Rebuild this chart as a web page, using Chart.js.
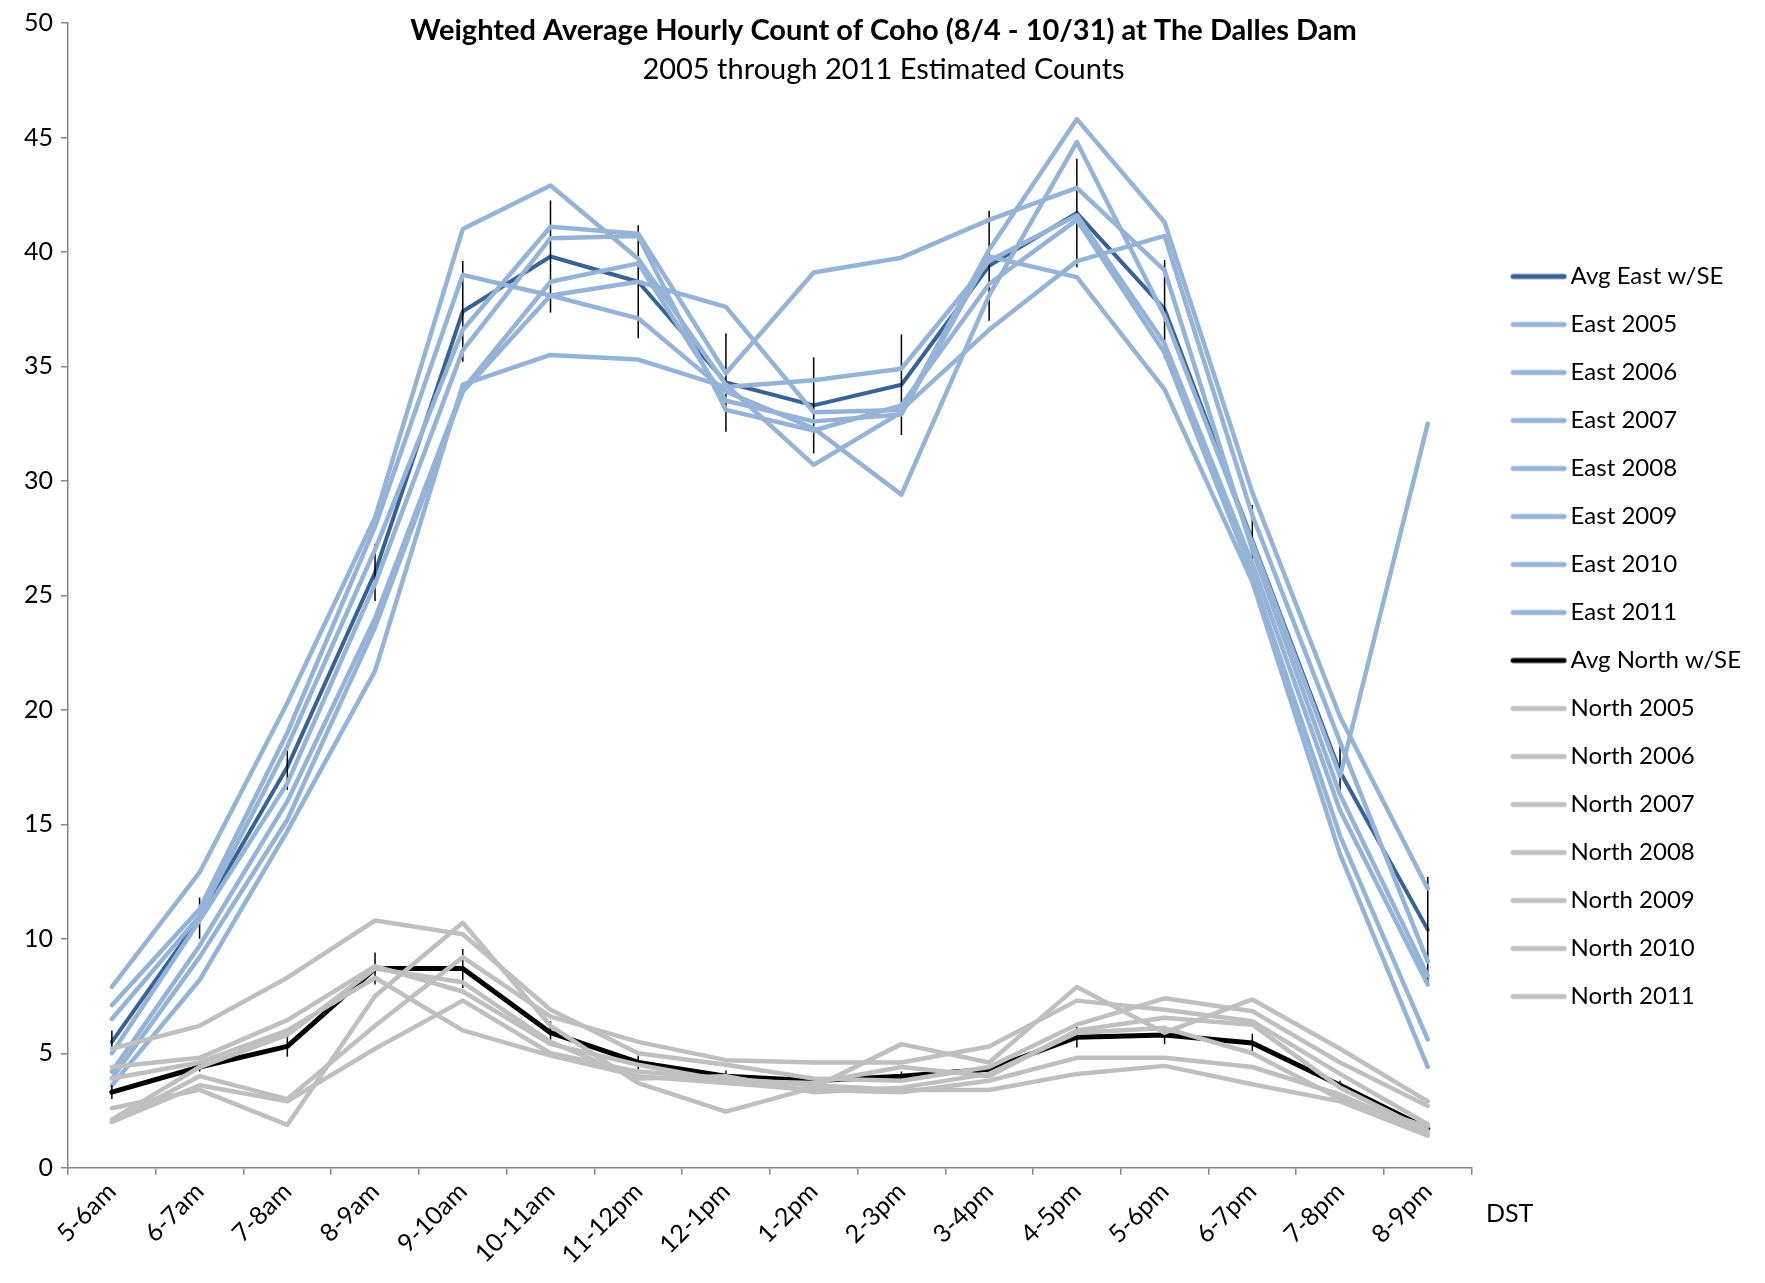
<!DOCTYPE html>
<html>
<head>
<meta charset="utf-8">
<title>Weighted Average Hourly Count of Coho</title>
<script src="https://cdn.jsdelivr.net/npm/chart.js@4.4.1/dist/chart.umd.min.js"></script>
<style>
  body { margin: 0; background: #fff; }
  canvas { display: block; }
</style>
</head>
<body>
<canvas id="coho" width="1765" height="1283"></canvas>
<script>
var hours = ['5-6am', '6-7am', '7-8am', '8-9am', '9-10am', '10-11am', '11-12pm', '12-1pm',
             '1-2pm', '2-3pm', '3-4pm', '4-5pm', '5-6pm', '6-7pm', '7-8pm', '8-9pm'];

var avgEast   = [5.5, 10.9, 17.5, 26.0, 37.4, 39.8, 38.7, 34.3, 33.3, 34.2, 39.4, 41.7, 37.5, 27.4, 17.3, 10.4];
var avgEastSE = [0.5, 0.9, 1.0, 1.25, 2.2, 2.45, 2.47, 2.15, 2.1, 2.2, 2.4, 2.37, 2.15, 1.55, 1.1, 2.3];
var east2005  = [7.9, 12.9, 20.3, 28.4, 41.0, 42.9, 39.7, 34.2, 30.7, 33.0, 40.1, 45.8, 41.3, 29.5, 19.7, 12.2];
var east2006  = [7.1, 11.3, 19.0, 28.0, 39.0, 38.1, 37.1, 33.9, 32.3, 29.4, 38.1, 44.8, 37.2, 27.3, 17.1, 32.5];
var east2007  = [3.6, 8.2, 14.7, 21.7, 34.2, 35.5, 35.3, 34.1, 34.4, 34.9, 39.6, 41.6, 36.0, 26.4, 15.6, 8.0];
var east2008  = [6.5, 11.0, 18.4, 27.0, 36.6, 41.1, 40.8, 34.7, 39.1, 39.75, 41.4, 42.8, 39.2, 27.0, 16.3, 8.4];
var east2009  = [5.0, 10.8, 16.8, 25.5, 35.7, 40.6, 40.7, 33.1, 32.2, 33.3, 38.6, 41.4, 35.6, 25.9, 14.5, 5.6];
var east2010  = [4.2, 9.7, 16.0, 24.0, 34.0, 38.7, 39.5, 33.5, 32.6, 32.9, 39.8, 38.9, 34.0, 25.6, 13.7, 4.4];
var east2011  = [3.9, 9.2, 15.2, 23.6, 33.9, 38.1, 38.7, 37.6, 33.0, 33.1, 36.6, 39.6, 40.7, 28.5, 18.6, 9.0];

var avgNorth   = [3.3, 4.4, 5.3, 8.7, 8.7, 5.9, 4.6, 4.0, 3.8, 4.0, 4.3, 5.7, 5.8, 5.45, 3.6, 1.7];
var avgNorthSE = [0.3, 0.2, 0.45, 0.7, 0.85, 0.5, 0.3, 0.25, 0.15, 0.2, 0.15, 0.45, 0.4, 0.4, 0.2, 0.1];
var north2005  = [5.2, 6.2, 8.3, 10.8, 10.2, 6.9, 5.0, 4.5, 3.9, 3.8, 4.4, 6.25, 7.4, 6.84, 4.6, 2.7];
var north2006  = [2.6, 3.4, 1.87, 7.5, 10.7, 6.2, 3.7, 2.45, 3.5, 5.4, 4.6, 7.9, 5.9, 7.35, 5.2, 2.9];
var north2007  = [2.0, 4.0, 3.0, 6.2, 9.2, 6.6, 5.5, 4.7, 4.6, 4.6, 5.3, 7.3, 6.9, 6.4, 4.1, 1.9];
var north2008  = [2.0, 3.6, 2.9, 5.2, 7.3, 5.0, 4.2, 3.9, 3.6, 3.4, 3.4, 4.1, 4.45, 3.65, 2.9, 1.4];
var north2009  = [4.4, 4.8, 6.45, 8.8, 7.7, 5.4, 4.5, 3.8, 3.7, 4.4, 4.0, 6.0, 6.55, 6.25, 3.5, 1.6];
var north2010  = [3.9, 4.6, 6.0, 8.3, 6.0, 4.9, 4.0, 3.7, 3.4, 3.3, 3.8, 4.8, 4.8, 4.4, 3.2, 1.5];
var north2011  = [2.1, 4.4, 5.8, 8.7, 8.1, 5.5, 3.9, 4.0, 3.3, 3.5, 4.1, 5.9, 6.1, 5.0, 3.0, 1.8];

var darkBlue = '#386294';
var lightBlue = '#95b3d7';
var gray = '#bfbfbf';

// little line sample used as the legend symbol
function legendLine(color) {
    var c = document.createElement('canvas');
    c.width = 100;
    c.height = 12;
    var g = c.getContext('2d');
    g.strokeStyle = color;
    g.lineWidth = 5;
    g.lineCap = 'round';
    g.beginPath();
    g.moveTo(36, 6);
    g.lineTo(87, 6);
    g.stroke();
    return c;
}

function series(label, data, color, width, se) {
    return {
        label: label,
        data: data,
        se: se,
        borderColor: color,
        backgroundColor: color,
        borderWidth: width,
        borderJoinStyle: 'round',
        borderCapStyle: 'round',
        pointRadius: 0,
        pointHoverRadius: 0,
        tension: 0,
        fill: false,
        pointStyle: legendLine(color)
    };
}

// vertical standard error bars, drawn right after their own line
var errorBars = {
    id: 'errorBars',
    afterDatasetDraw: function(chart, args) {
        var ds = chart.data.datasets[args.index];
        if (!ds.se) return;
        var y = chart.scales.y;
        var ctx = chart.ctx;
        ctx.save();
        ctx.strokeStyle = '#000';
        ctx.lineWidth = 1.5;
        args.meta.data.forEach(function(pt, i) {
            ctx.beginPath();
            ctx.moveTo(pt.x, y.getPixelForValue(ds.data[i] + ds.se[i]));
            ctx.lineTo(pt.x, y.getPixelForValue(ds.data[i] - ds.se[i]));
            ctx.stroke();
        });
        ctx.restore();
    }
};

var dstLabel = {
    id: 'dstLabel',
    afterDraw: function(chart) {
        var x = chart.scales.x;
        var ctx = chart.ctx;
        ctx.save();
        ctx.font = '25px Lato';
        ctx.fillStyle = '#000';
        ctx.textAlign = 'center';
        ctx.textBaseline = 'middle';
        ctx.fillText('DST', x.right + 38, x.top + 46);
        ctx.restore();
    }
};

function drawChart() {
    var list = [
        series('Avg East w/SE', avgEast, darkBlue, 4, avgEastSE),
        series('East 2005', east2005, lightBlue, 4.5),
        series('East 2006', east2006, lightBlue, 4.5),
        series('East 2007', east2007, lightBlue, 4.5),
        series('East 2008', east2008, lightBlue, 4.5),
        series('East 2009', east2009, lightBlue, 4.5),
        series('East 2010', east2010, lightBlue, 4.5),
        series('East 2011', east2011, lightBlue, 4.5),
        series('Avg North w/SE', avgNorth, '#000', 5, avgNorthSE),
        series('North 2005', north2005, gray, 4.5),
        series('North 2006', north2006, gray, 4.5),
        series('North 2007', north2007, gray, 4.5),
        series('North 2008', north2008, gray, 4.5),
        series('North 2009', north2009, gray, 4.5),
        series('North 2010', north2010, gray, 4.5),
        series('North 2011', north2011, gray, 4.5)
    ];
    // first dataset is drawn on top, so reverse to keep the later series above
    list.reverse();

    var ctx = document.getElementById('coho').getContext('2d');
    new Chart(ctx, {
        type: 'line',
        data: { labels: hours, datasets: list },
        plugins: [errorBars, dstLabel],
        options: {
            responsive: false,
            animation: false,
            devicePixelRatio: 1,
            events: [],
            layout: { padding: { left: 16, right: 14, top: 17, bottom: 11 } },
            plugins: {
                title: {
                    display: true,
                    text: 'Weighted Average Hourly Count of Coho (8/4 - 10/31) at The Dalles Dam',
                    color: '#000',
                    font: { family: 'Lato', size: 29, weight: 'bold' },
                    padding: { top: -9.4, bottom: -25.4 }
                },
                subtitle: {
                    display: true,
                    text: '2005 through 2011 Estimated Counts',
                    color: '#000',
                    font: { family: 'Lato', size: 29 },
                    padding: { top: 29.6, bottom: -64.4 }
                },
                legend: {
                    position: 'right',
                    reverse: true,
                    // empty title with negative padding nudges the list up a little
                    title: { display: true, text: '', font: { size: 12 }, padding: { top: -30.4, bottom: 0 } },
                    labels: {
                        usePointStyle: true,
                        pointStyleWidth: 63,
                        padding: 24,
                        color: '#000',
                        font: { family: 'Lato', size: 24 }
                    }
                },
                tooltip: { enabled: false }
            },
            scales: {
                x: {
                    offset: true,
                    grid: { offset: true, drawOnChartArea: false, tickLength: 7, color: '#868686', lineWidth: 1.5 },
                    border: { color: '#868686', width: 1.5 },
                    ticks: {
                        autoSkip: false,
                        minRotation: 45,
                        maxRotation: 45,
                        padding: 2,
                        color: '#000',
                        font: { family: 'Lato', size: 25 }
                    }
                },
                y: {
                    min: 0,
                    max: 50,
                    grid: { drawOnChartArea: false, tickLength: 7, color: '#868686', lineWidth: 1.5 },
                    border: { color: '#868686', width: 1.5 },
                    ticks: {
                        stepSize: 5,
                        padding: 8,
                        color: '#000',
                        font: { family: 'Lato', size: 25 }
                    }
                }
            }
        }
    });
}

Promise.all([
    document.fonts.load('25px Lato'),
    document.fonts.load('bold 29px Lato')
]).then(drawChart, drawChart);
</script>
</body>
</html>
